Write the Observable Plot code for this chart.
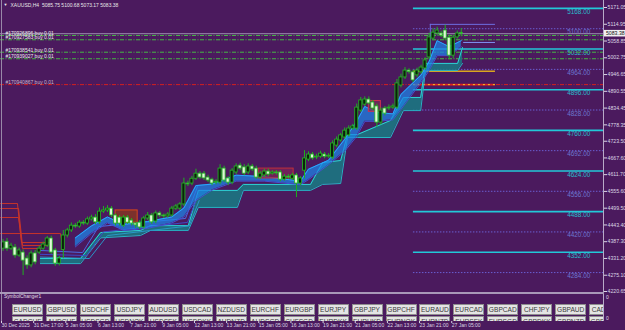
<!DOCTYPE html>
<html><head><meta charset="utf-8">
<script src="https://cdn.jsdelivr.net/npm/d3@7"></script>
<script src="https://cdn.jsdelivr.net/npm/@observablehq/plot@0.6"></script>
<style>
html,body{margin:0;padding:0;background:#4b1a5e;}
#wrap{position:relative;width:625px;height:330px;overflow:hidden;background:#4b1a5e;font-family:"Liberation Sans",Arial,sans-serif;}
#wrap svg{position:absolute;left:0;top:0;}
.ln{position:absolute;}
.btn{position:absolute;width:29px;height:9px;background:#e4e4e4;border:1px solid #8e8e8e;color:#3a3a3a;font-size:6.6px;line-height:9px;text-align:center;white-space:nowrap;overflow:hidden;}
.lbl{position:absolute;color:#e0dce6;white-space:nowrap;}
</style></head><body><div id="wrap"></div><script>
// ---- OHLC data (XAUUSD H4) ----
const open = [4364,4387,4364,4368,4341,4351,4331,4308,4348,4351,4364,4374,4398,4358,4314,4360,4408,4425,4441,4438,4451,4448,4462,4468,4452,4488,4492,4498,4475,4468,4441,4468,4458,4448,4451,4435,4465,4475,4455,4482,4475,4472,4475,4498,4498,4512,4582,4582,4598,4615,4615,4602,4595,4585,4585,4632,4599,4585,4619,4642,4636,4619,4639,4632,4602,4609,4622,4615,4619,4619,4595,4605,4598,4609,4582,4625,4662,4679,4669,4672,4679,4672,4669,4709,4726,4736,4743,4766,4766,4826,4846,4863,4853,4840,4786,4833,4833,4836,4836,4910,4937,4960,4954,4944,4954,4967,5004,5067,5084,5084,5094,5070,5010,5071,5085.75];
const high = [4395,4398,4382,4378,4366,4360,4340,4356,4358,4372,4386,4405,4406,4365,4338,4425,4432,4450,4448,4458,4458,4470,4476,4478,4500,4505,4508,4505,4480,4475,4475,4475,4465,4452,4458,4472,4485,4482,4490,4488,4480,4485,4505,4512,4518,4600,4590,4606,4630,4622,4622,4610,4600,4595,4645,4640,4605,4632,4648,4650,4645,4648,4646,4640,4622,4630,4630,4625,4625,4625,4612,4612,4616,4616,4605,4692,4688,4686,4680,4690,4686,4682,4725,4738,4750,4768,4775,4780,4848,4870,4872,4872,4860,4848,4835,4840,4845,4848,4930,4948,4970,4966,4962,4968,4978,5003,5085,5100,5105,5092,5112,5078,5078,5092,5100.68];
const low = [4355,4355,4358,4332,4335,4274,4295,4300,4310,4345,4358,4368,4345,4305,4306,4330,4400,4418,4432,4432,4442,4442,4456,4445,4445,4482,4485,4468,4440,4440,4435,4445,4440,4432,4428,4430,4458,4445,4448,4468,4465,4466,4470,4492,4492,4505,4572,4575,4592,4596,4592,4585,4575,4578,4578,4585,4575,4578,4612,4625,4608,4612,4622,4596,4596,4602,4605,4610,4610,4588,4590,4596,4592,4535,4575,4598,4655,4660,4662,4666,4665,4666,4662,4702,4720,4730,4738,4760,4760,4820,4840,4845,4826,4770,4778,4808,4826,4830,4830,4902,4930,4948,4920,4936,4948,4960,4996,5060,5078,5070,5060,4996,5000,5065,5073.17];
const close = [4385,4364,4374,4341,4358,4324,4308,4348,4318,4364,4378,4398,4351,4314,4331,4408,4425,4441,4438,4451,4448,4462,4468,4452,4488,4492,4498,4475,4448,4448,4468,4451,4448,4442,4435,4465,4475,4452,4482,4475,4472,4478,4498,4505,4512,4582,4579,4598,4615,4602,4599,4592,4582,4588,4632,4592,4585,4625,4639,4632,4615,4639,4629,4602,4615,4622,4612,4619,4616,4595,4605,4602,4609,4582,4599,4666,4679,4666,4672,4682,4672,4675,4716,4729,4743,4759,4766,4773,4836,4860,4863,4850,4833,4786,4826,4816,4836,4840,4917,4937,4960,4955,4927,4960,4970,4994,5071,5087,5094,5077,5067,5010,5070,5084,5083.38];

// ---- axes ----
const timeTickIdx = [0,8,16,24,32,40,48,56,64,72,80,88,96,104,112];
const timeLabels = ["30 Dec 2025","31 Dec 17:00","5 Jan 05:00","6 Jan 13:00","7 Jan 21:00","9 Jan 05:00","12 Jan 13:00","13 Jan 21:00","15 Jan 05:00","16 Jan 13:00","19 Jan 21:00","21 Jan 05:00","22 Jan 13:00","23 Jan 21:00","27 Jan 05:00"];
const priceTicks = [5171.05,5114.95,5058.85,5002.75,4946.65,4890.55,4834.45,4778.35,4723.50,4667.60,4611.70,4555.60,4499.50,4443.40,4387.30,4331.20,4275.10,4220.65];

// ---- horizontal levels ----
const levelsSolid = [5168,5032,4896,4760,4624,4488,4352,4216];
const levelsDotted = [5100,4964,4828,4692,4556,4420,4284];

// ---- order lines ----
const greenOrders = [5077.5,5063,5021.5,4999.5];
const greenOrderNames = ["#170926896 buy 0.01","#170927583 buy 0.01","#170938541 buy 0.01","#170939027 buy 0.01"];
const redOrders = [4913];
const redOrderNames = ["#170940867 buy 0.01"];

// ---- indicator: blue ribbon ----
const ribbonIdx = [18,22,26,30,36,42,45,48,52,58,65,74,76,81,85,88,90,93,97,99,104,106,108,111,114];
const ribbonHi  = [4400,4440,4470,4445,4455,4470,4500,4575,4580,4610,4605,4590,4630,4660,4730,4790,4840,4820,4815,4880,4945,4990,5060,5040,5060];
const ribbonLo  = [4370,4415,4450,4425,4432,4450,4470,4525,4560,4590,4590,4578,4595,4645,4690,4740,4790,4790,4795,4830,4920,4960,5010,5010,5040];

// ---- indicator: fan lines (left) ----
const fanId = ["f1","f1","f1","f1","f1","f2","f2","f2","f2","f2","f3","f3","f3","f3","f3"];
const fanIdx = [9.3,19.8,23.8,45.4,48.4, 9.3,20.8,25,45.9,48.6, 9.3,21.5,26,46.3,48.8];
const fanPrice = [4358,4351,4438,4465,4572, 4345,4341,4420,4452,4545, 4336,4331,4408,4440,4525];

// ---- indicator: teal trailing band ----
const tealIdx = [9.3,19.3,24.3,34.2,36.7,46.1,48.6,58.3,59.8,76.5,79.5,84,85.7,88.2,96.4,99.6,103.9,105.1,113.1,114.3];
const tealTop = [4331,4331,4418,4425,4441,4441,4559,4559,4579,4579,4652,4659,4746,4746,4793,4870,4870,4984,4984,5037];
const tealBot = [4314,4314,4400,4408,4425,4425,4502,4502,4559,4559,4579,4582,4736,4736,4736,4826,4826,4960,4960,4984];

// ---- indicator: red descending stops (left) ----
const redLineId = ["a","a","a","a","b","b","b","b","c","c","c","c","d","d","d"];
const redLineIdx = [-0.62,3.6,4.6,11.8, -0.62,3.86,4.85,11.07, -0.62,3.86,4.85,9.33, -0.62,14.3,15.05];
const redLinePrice = [4515,4515,4384.5,4384.5, 4498.3,4498.3,4374.5,4374.5, 4468.2,4468.2,4364.4,4364.4, 4414.6,4414.6,4357.7];

// ---- indicator boxes ----
const boxX1 = [28,63.6,91];
const boxX2 = [33.5,72.3,94];
const boxLo = [4451,4599,4822];
const boxHi = [4492,4632,4858];
const boxFill = ["#8b3a1c","#7c2458","#7a2a5a"];
const boxStroke = ["#d9461c","#c0303a","#d03050"];

// ---- symbol changer ----
const row1 = ["EURUSD","GBPUSD","USDCHF","USDJPY","AUDUSD","USDCAD","NZDUSD","EURCHF","EURGBP","EURJPY","GBPJPY","GBPCHF","EURAUD","EURCAD","GBPCAD","CHFJPY","GBPAUD","CADJPY"];
const row2 = ["CADCHF","AUDCHF","USDSGD","USDNOK","USDSEK","USDDKK","AUDNZD","AUDSGD","CHFSGD","EURDKK","EURHKD","EURNOK","EURNZD","EURSEK","EURSGD","GBPDKK","GBPNZD","GBPSGD"];

// ---- build ----
const bars = close.map((c,i)=>({i, o:open[i], h:high[i], l:low[i], c}));
const bull = bars.filter(d=>d.c>=d.o), bear = bars.filter(d=>d.c<d.o);
const last = bars[bars.length-1];
const ribbon = ribbonIdx.map((i,k)=>({i, hi:ribbonHi[k], lo:ribbonLo[k]}));
const fans = fanIdx.map((i,k)=>({i, p:fanPrice[k], z:fanId[k]}));
const teal = tealIdx.map((i,k)=>({i, t:tealTop[k], b:tealBot[k]}));
const redL = redLineIdx.map((i,k)=>({i, p:redLinePrice[k], z:redLineId[k]}));
const boxes = boxX1.map((x1,k)=>({x1, x2:boxX2[k], lo:boxLo[k], hi:boxHi[k], f:boxFill[k], s:boxStroke[k]}));
const greens = greenOrders.map((p,k)=>({p, n:greenOrderNames[k]}));
const reds = redOrders.map((p,k)=>({p, n:redOrderNames[k]}));

const xDom = [-0.622, 149.38];
const lvStart = 102.1, objEnd = 122.5;
const fmt = d=>d.toFixed(2);

const chart = Plot.plot({
  width:625, height:330, marginLeft:0, marginRight:22, marginTop:0, marginBottom:9,
  style:{background:"transparent", color:"#dcd6e4", fontFamily:"Liberation Sans, Arial, sans-serif", overflow:"visible"},
  x:{domain:xDom, range:[0,603]},
  y:{domain:[4220.65,5171.05], range:[291,7]},
  marks:[
    // right-side levels
    Plot.ruleY(levelsDotted, {y:d=>d, x1:lvStart, x2:xDom[1], stroke:"#6a5ed0", strokeWidth:1, strokeDasharray:"1.5,1.5"}),
    Plot.ruleY(levelsSolid, {y:d=>d, x1:lvStart, x2:xDom[1], stroke:"#22c8d8", strokeWidth:1.6}),
    Plot.text(levelsDotted, {y:d=>d, x:146.1, text:fmt, textAnchor:"end", dy:3.5, fontSize:6.4, fill:"#6b78d0"}),
    Plot.text(levelsSolid.slice(0,-1), {y:d=>d, x:146.1, text:fmt, textAnchor:"end", dy:3.5, fontSize:6.4, fill:"#2abccc"}),
    // bid line
    Plot.ruleY([last], {y:"c", stroke:"#9a8cae", strokeWidth:1}),
    // order lines
    Plot.ruleY(greens, {y:"p", stroke:"#46b846", strokeWidth:1, strokeDasharray:"4,1.5,1,1.5"}),
    Plot.ruleY(reds, {y:"p", stroke:"#d42020", strokeWidth:1, strokeDasharray:"4,1.5,1,1.5"}),
    Plot.text(greens, {y:"p", x:0.6, text:"n", textAnchor:"start", dy:-2.2, fontSize:5, fill:"#eeeeee"}),
    Plot.text(reds, {y:"p", x:0.6, text:"n", textAnchor:"start", dy:-2.4, fontSize:5, fill:"#c8b8cc"}),
    // objects near last bars
    Plot.ruleY([4958], {y:d=>d, x1:lvStart, x2:objEnd, stroke:"#d9a520", strokeWidth:1.5}),
    Plot.ruleY([redOrders[0]], {y:d=>d, x1:lvStart, x2:objEnd, stroke:"#e02020", strokeWidth:1.6}),
    Plot.ruleY([redOrders[0]], {y:d=>d, x1:lvStart, x2:objEnd, stroke:"#f0c828", strokeWidth:1, strokeDasharray:"2,3"}),
    Plot.ruleY([5114.6], {y:d=>d, x1:106.3, x2:objEnd, stroke:"#6d6de0", strokeWidth:1}),
    Plot.ruleX([106.3], {x:d=>d, y1:4994, y2:5114.6, stroke:"#6d6de0", strokeWidth:1}),
    Plot.ruleY([5054], {y:d=>d, x1:114.6, x2:objEnd, stroke:"#7f8ff0", strokeWidth:1}),
    // teal band
    Plot.areaY(teal, {x:"i", y1:"b", y2:"t", fill:"#187d84", fillOpacity:0.85}),
    Plot.line(teal, {x:"i", y:"t", stroke:"#2ed2d6", strokeWidth:1}),
    Plot.line(teal, {x:"i", y:"b", stroke:"#26b4c4", strokeWidth:1}),
    // fan lines
    Plot.line(fans, {x:"i", y:"p", z:"z", stroke:"z", strokeWidth:1}),
    // blue ribbon
    Plot.areaY(ribbon, {x:"i", y1:"lo", y2:"hi", fill:"#1e82e6", fillOpacity:0.75}),
    Plot.line(ribbon, {x:"i", y:"hi", stroke:"#2aa8ff", strokeWidth:1}),
    Plot.line(ribbon, {x:"i", y:"lo", stroke:"#4450d0", strokeWidth:1}),
    // red stops and boxes
    Plot.line(redL, {x:"i", y:"p", z:"z", stroke:"#c8342a", strokeWidth:1}),
    Plot.rect(boxes, {x1:"x1", x2:"x2", y1:"lo", y2:"hi", fill:"f", stroke:"s", fillOpacity:0.75}),
    // candles
    Plot.ruleX(bars, {x:"i", y1:"l", y2:"h", stroke:"#1fb01f", strokeWidth:1}),
    Plot.rect(bull, {x1:d=>d.i-0.38, x2:d=>d.i+0.38, y1:"o", y2:"c", fill:"#0c200c", stroke:"#24b824", strokeWidth:0.8}),
    Plot.rect(bear, {x1:d=>d.i-0.38, x2:d=>d.i+0.38, y1:"o", y2:"c", fill:"#dff7d6", stroke:"#24b824", strokeWidth:0.8}),
    // current price box on the axis
    Plot.rect([last], {x1:xDom[1], x2:xDom[1]+22/4.02, y1:d=>d.c-11, y2:d=>d.c+11, fill:"#f0f0f0"}),
    Plot.text([last], {x:xDom[1]+0.6, y:"c", text:d=>fmt(d.c), textAnchor:"start", fontSize:5.2, fill:"#111"}),
    // title
    Plot.text([last], {frameAnchor:"top-left", dx:3, dy:3, lineAnchor:"top", text:()=>"▼", fontSize:4, fill:"#f0f0f0"}),
    Plot.text([last], {frameAnchor:"top-left", dx:10, dy:2.5, lineAnchor:"top", text:d=>`XAUUSD,H4  ${fmt(d.o)} ${fmt(d.h)} ${fmt(d.l)} ${fmt(d.c)}`, fontSize:5, fill:"#e8e8e8"}),
    // axes
    Plot.axisY(priceTicks, {anchor:"right", tickFormat:fmt, tickSize:3, tickPadding:1, fontSize:5.2, label:null}),
    Plot.axisX(timeTickIdx, {anchor:"bottom", tickFormat:i=>timeLabels[timeTickIdx.indexOf(i)], tickSize:2, tickPadding:0, fontSize:5, textAnchor:"start", dx:-1.5, label:null})
  ],
  color:{type:"ordinal", domain:["f1","f2","f3"], range:["#4a6ae0","#3f48c4","#2a96c8"]}
});
const wrap = document.getElementById("wrap");
wrap.appendChild(chart);

function div(cls, css, text){const e=document.createElement("div"); e.className=cls; Object.assign(e.style, css); if(text!=null) e.textContent=text; return e;}
wrap.appendChild(div("ln",{left:"1px",top:"0px",width:"1px",height:"321px",background:"#9888a8"}));
wrap.appendChild(div("ln",{left:"603px",top:"0px",width:"1px",height:"321px",background:"#b8aac8"}));
wrap.appendChild(div("ln",{left:"0px",top:"292px",width:"604px",height:"2px",background:"#a898b8"}));
wrap.appendChild(div("lbl",{left:"4px",top:"294px",fontSize:"4.8px"},"SymbolChanger1"));
wrap.appendChild(div("lbl",{left:"606px",top:"294px",fontSize:"5px"},"0"));
wrap.appendChild(div("lbl",{left:"606px",top:"315px",fontSize:"5px"},"0"));
const sub = div("ln",{left:"0px",top:"294px",width:"603px",height:"27px",overflow:"hidden"});
wrap.appendChild(sub);
[row1,row2].forEach((row,r)=>row.forEach((s,k)=>{
  sub.appendChild(div("btn",{left:(12+33.95*k).toFixed(1)+"px",top:(r?22:10)+"px"},s));
}));
</script></body></html>
